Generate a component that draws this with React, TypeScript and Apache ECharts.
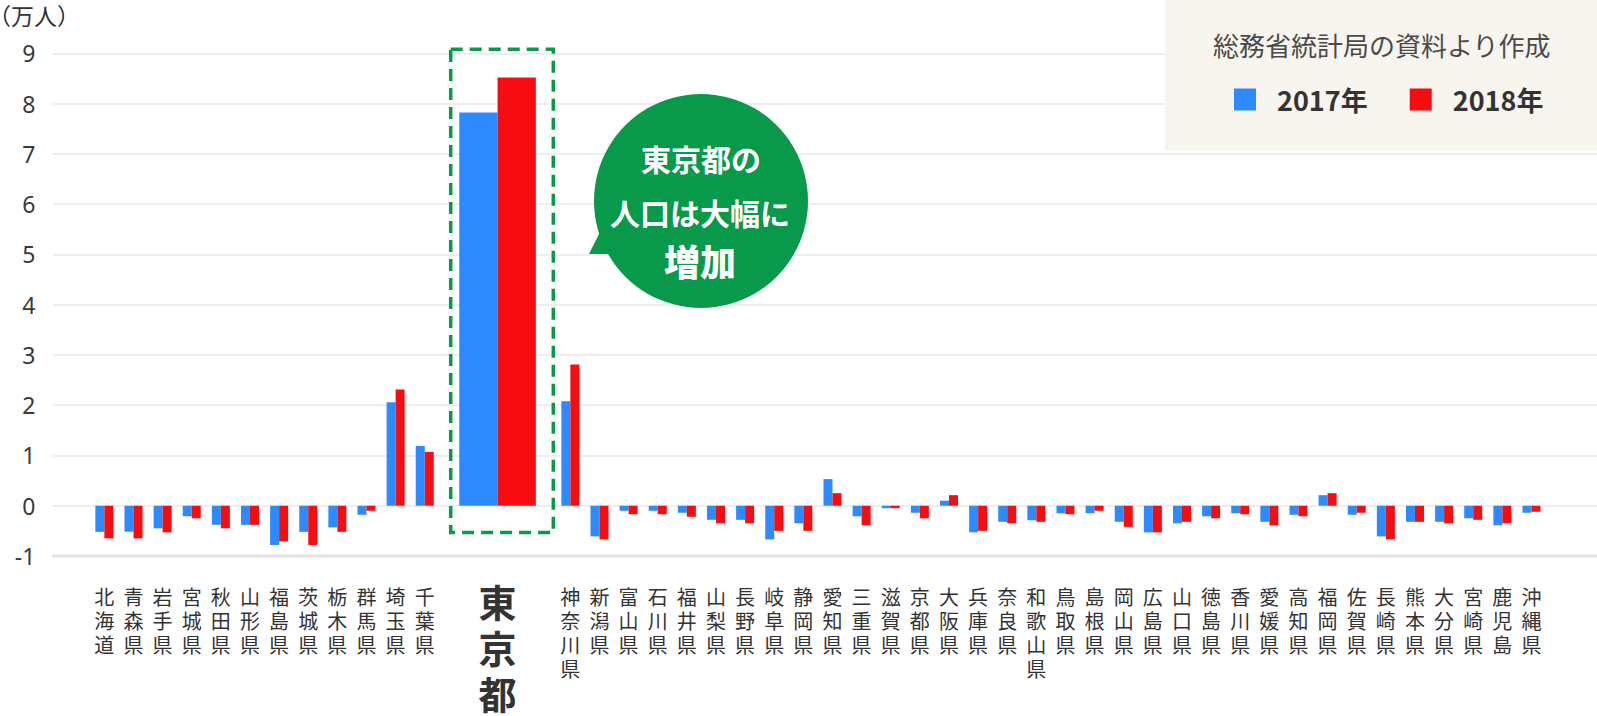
import { useEffect, useRef } from 'react'
import * as echarts from 'echarts'

const FONT = "'Noto Sans CJK JP', 'Noto Sans', sans-serif"

// 都道府県（ラベルは元図のまま）
const prefectures = [
  '北海道', '青森県', '岩手県', '宮城県', '秋田県', '山形県', '福島県', '茨城県', '栃木県', '群馬県',
  '埼玉県', '千葉県', '東京都', '神奈川県', '新潟県', '富山県', '石川県', '福井県', '山梨県', '長野県',
  '岐阜県', '静岡県', '愛知県', '三重県', '滋賀県', '京都県', '大阪県', '兵庫県', '奈良県', '和歌山県',
  '鳥取県', '島根県', '岡山県', '広島県', '山口県', '徳島県', '香川県', '愛媛県', '高知県', '福岡県',
  '佐賀県', '長崎県', '熊本県', '大分県', '宮崎県', '鹿児島', '沖縄県',
]

// 人口増減（万人）
const values2017 = [
  -0.52, -0.52, -0.45, -0.21, -0.38, -0.38, -0.78, -0.52, -0.43, -0.18,
  2.06, 1.19, 7.82, 2.08, -0.61, -0.1, -0.1, -0.14, -0.28, -0.28,
  -0.67, -0.35, 0.53, -0.21, -0.05, -0.14, 0.1, -0.53, -0.32, -0.29,
  -0.15, -0.15, -0.32, -0.53, -0.35, -0.21, -0.15, -0.32, -0.18, 0.21,
  -0.18, -0.61, -0.32, -0.32, -0.25, -0.39, -0.14,
]
const values2018 = [
  -0.65, -0.65, -0.53, -0.25, -0.45, -0.38, -0.71, -0.78, -0.52, -0.1,
  2.31, 1.07, 8.52, 2.81, -0.67, -0.17, -0.17, -0.22, -0.35, -0.35,
  -0.5, -0.5, 0.25, -0.39, -0.05, -0.25, 0.21, -0.5, -0.35, -0.32,
  -0.17, -0.1, -0.42, -0.53, -0.32, -0.25, -0.17, -0.39, -0.21, 0.25,
  -0.14, -0.67, -0.32, -0.35, -0.28, -0.35, -0.12,
]

const seriesNames = ['2017年', '2018年']
const yTicks = { min: -1, max: 9, interval: 1 }

const TOKYO = '東京都'

// 横軸は半区画単位。東京都の前後に余白を入れる
const SLOT_COUNT = 106
const slotOf = (i: number) => (i < 12 ? 3 + 2 * i : i === 12 ? 30 : 2 * i + 9)

export default function App() {
  const ref = useRef<HTMLDivElement>(null)

  useEffect(() => {
    document.body.style.margin = '0'
    if (!ref.current) return
    const chart = echarts.init(ref.current, undefined, { renderer: 'svg' })

    const slotLabels: (string | { value: string; textStyle: object })[] = new Array(SLOT_COUNT).fill('')
    const main17: (number | null)[] = new Array(SLOT_COUNT).fill(null)
    const main18: (number | null)[] = new Array(SLOT_COUNT).fill(null)
    const tokyo17: (number | null)[] = new Array(SLOT_COUNT).fill(null)
    const tokyo18: (number | null)[] = new Array(SLOT_COUNT).fill(null)
    prefectures.forEach((p, i) => {
      const s = slotOf(i)
      if (p === TOKYO) {
        slotLabels[s] = { value: p, textStyle: { padding: 0 } }
        tokyo17[s] = values2017[i]
        tokyo18[s] = values2018[i]
      } else {
        slotLabels[s] = p
        main17[s] = values2017[i]
        main18[s] = values2018[i]
      }
    })

    const blue = '#2d8bff'
    const red = '#f60c11'
    const green = '#08994a'

    chart.setOption({
      animation: false,
      textStyle: { fontFamily: FONT },
      title: {
        text: '総務省統計局の資料より作成',
        left: 1213,
        top: 31,
        padding: 0,
        textStyle: { fontSize: 26, fontWeight: 'normal', color: '#4a4a4a', fontFamily: FONT },
        z: 6,
      },
      legend: {
        data: seriesNames,
        left: 1229,
        top: 81,
        itemWidth: 22,
        itemHeight: 22,
        itemGap: 42,
        icon: 'rect',
        textStyle: {
          fontSize: 27,
          fontWeight: 'bold',
          color: '#333',
          fontFamily: FONT,
          padding: [0, 0, 0, 16],
        },
        z: 5,
      },
      grid: { left: 53.4, top: 53.3, width: SLOT_COUNT * 14.61, bottom: 160 },
      xAxis: [
        {
          type: 'category',
          data: slotLabels,
          boundaryGap: true,
          axisTick: { show: false },
          axisLine: { onZero: false, lineStyle: { color: '#e6e6e6', width: 3.5 } },
          axisLabel: {
            interval: 0,
            margin: 22,
            padding: [6, 0, 0, 0],
            fontSize: 20,
            lineHeight: 24,
            color: '#333',
            fontFamily: FONT,
            formatter: (v: string) =>
              v === TOKYO ? v.split('').map((c) => `{t|${c}}`).join('\n') : v.split('').join('\n'),
            rich: {
              t: { fontSize: 38, fontWeight: 'bold', lineHeight: 45.6, color: '#333', fontFamily: FONT },
            },
          },
        },
        { type: 'category', data: slotLabels, boundaryGap: true, show: false },
      ],
      yAxis: {
        type: 'value',
        ...yTicks,
        axisLine: { show: false },
        axisTick: { show: false },
        axisLabel: { fontSize: 23, color: '#3a3a3a', margin: 18, fontFamily: 'Noto Sans' },
        splitLine: { lineStyle: { color: '#e8e8e8', width: 1.6 } },
      },
      series: [
        { name: seriesNames[0], type: 'bar', xAxisIndex: 0, data: main17, barWidth: 9, barGap: '0%', itemStyle: { color: blue } },
        { name: seriesNames[1], type: 'bar', xAxisIndex: 0, data: main18, barWidth: 9, barGap: '0%', itemStyle: { color: red } },
        { name: seriesNames[0], type: 'bar', xAxisIndex: 1, data: tokyo17, barWidth: 38.3, barGap: '0%', itemStyle: { color: blue } },
        { name: seriesNames[1], type: 'bar', xAxisIndex: 1, data: tokyo18, barWidth: 38.3, barGap: '0%', itemStyle: { color: red } },
      ],
      graphic: {
        elements: [
          {
            type: 'rect',
            z: 2,
            shape: { x: 1165, y: 0, width: 440, height: 150 },
            style: { fill: '#f8f5ef' },
          },
          {
            type: 'text',
            z: 3,
            x: -12,
            y: 15,
            style: { text: '（万人）', fontSize: 23, fill: '#333', fontFamily: FONT, verticalAlign: 'middle' },
          },
          {
            type: 'rect',
            z: 10,
            shape: { x: 450.7, y: 49.3, width: 102.6, height: 483.2 },
            style: { fill: 'none', stroke: green, lineWidth: 3.5, lineDash: [12, 7] },
          },
          {
            type: 'polygon',
            z: 10,
            shape: { points: [[603, 226], [589, 254], [620, 254]] },
            style: { fill: green },
          },
          {
            type: 'circle',
            z: 10,
            shape: { cx: 701, cy: 201, r: 107 },
            style: { fill: green },
          },
          {
            type: 'text',
            z: 11,
            x: 701,
            y: 158,
            style: { text: '東京都の', fontSize: 30, fontWeight: 'bold', fill: '#fff', fontFamily: FONT, align: 'center', verticalAlign: 'middle' },
          },
          {
            type: 'text',
            z: 11,
            x: 700,
            y: 212,
            style: { text: '人口は大幅に', fontSize: 30, fontWeight: 'bold', fill: '#fff', fontFamily: FONT, align: 'center', verticalAlign: 'middle' },
          },
          {
            type: 'text',
            z: 11,
            x: 700,
            y: 260,
            style: { text: '増加', fontSize: 36, fontWeight: 900, fill: '#fff', fontFamily: FONT, align: 'center', verticalAlign: 'middle' },
          },
        ],
      },
    })

    return () => chart.dispose()
  }, [])

  return <div ref={ref} style={{ width: 1597, height: 716 }} />
}
